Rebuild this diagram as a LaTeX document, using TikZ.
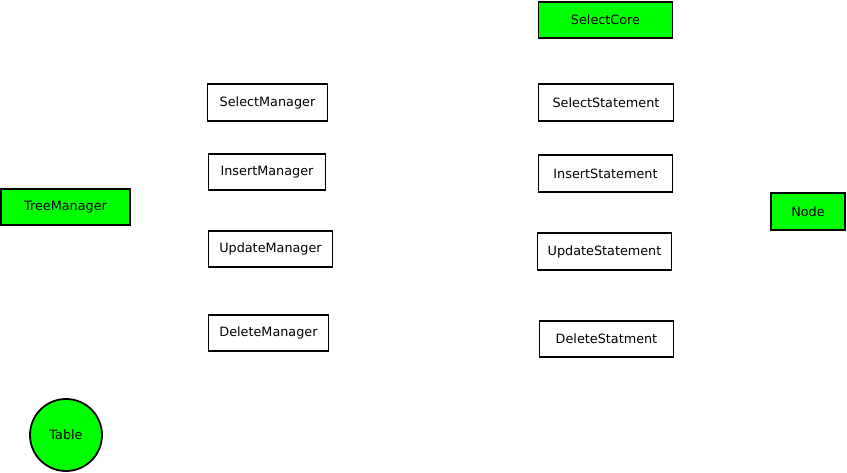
\documentclass[tikz,border=0pt]{standalone}
\usepackage{fontspec}
\setmainfont{DejaVu Sans}
\usepackage{tikz}
\usetikzlibrary{positioning,shapes}
\definecolor{boxgreen}{RGB}{0,255,0}
\tikzset{
  box/.style={draw,rectangle,line width=1.8pt,inner sep=0pt,
              minimum height=36.5pt,font=\fontsize{12.8}{15}\selectfont},
  gbox/.style={box,fill=boxgreen},
  gcirc/.style={draw,circle,fill=boxgreen,line width=1.8pt,inner sep=0pt,
              minimum size=72pt,font=\fontsize{12.8}{15}\selectfont}
}
\begin{document}
\begin{tikzpicture}[x=1pt,y=-1pt]
\useasboundingbox (0,0) rectangle (847,472);
% managers
\node at (267.5,102.5) (SelMgr) [box,minimum width=120pt]{SelectManager};
\node at (267,172) (InsMgr) [box,minimum width=117pt]{InsertManager};
\node at (270.5,249) (UpdMgr) [box,minimum width=124pt]{UpdateManager};
\node at (268.5,333) (DelMgr) [box,minimum width=120pt]{DeleteManager};
% statements
\node at (605.5,20) (SelCore) [gbox,minimum width=134pt]{SelectCore};
\node at (606,102.5) (SelStmt) [box,minimum width=135pt]{SelectStatement};
\node at (605.5,173.5) (InsStmt) [box,minimum width=134pt]{InsertStatement};
\node at (604.5,251.5) (UpdStmt) [box,minimum width=134pt]{UpdateStatement};
\node at (606.5,339) (DelStmt) [box,minimum width=134pt]{DeleteStatment};
% the rest
\node at (65.5,207) (TreeMgr) [gbox,minimum width=129pt]{TreeManager};
\node at (808,211.5) (Nd) [gbox,minimum width=74pt]{Node};
\node at (66,435) (Tbl) [gcirc]{Table};
\end{tikzpicture}
\end{document}
